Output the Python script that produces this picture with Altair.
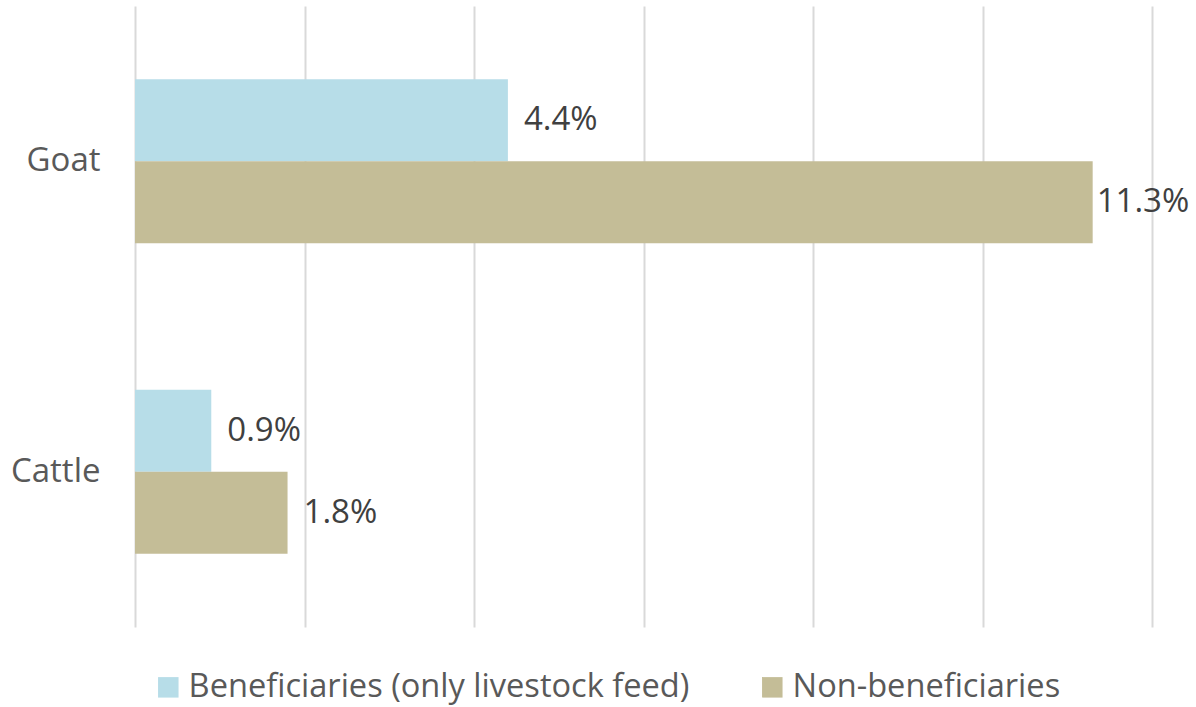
import altair as alt
import pandas as pd

categories = ["Goat", "Cattle"]
series = ["Beneficiaries (only livestock feed)", "Non-beneficiaries"]
beneficiaries = [4.4, 0.9]
non_beneficiaries = [11.3, 1.8]
colors = ["#B7DDE8", "#C4BD97"]

rows = []
for i, c in enumerate(categories):
    rows.append({"animal": c, "group": series[0], "order": 0, "value": beneficiaries[i]})
    rows.append({"animal": c, "group": series[1], "order": 1, "value": non_beneficiaries[i]})
df = pd.DataFrame(rows)
df["label"] = df["value"].map(lambda v: f"{v:.1f}%")

FONT = "Open Sans"
FS = 33

y_enc = alt.Y("animal:N", sort=categories, title=None,
              scale=alt.Scale(paddingInner=0.472, paddingOuter=0.236),
              axis=alt.Axis(domain=False, ticks=False, labelFont=FONT, labelFontSize=FS,
                            labelColor="#595959", labelPadding=35))
yoff = alt.YOffset("group:N", sort=series, scale=alt.Scale(paddingInner=0, paddingOuter=0))
x_enc = alt.X("value:Q", title=None,
              scale=alt.Scale(domain=[0, 12], nice=False),
              axis=alt.Axis(values=[0, 2, 4, 6, 8, 10, 12], labels=False, ticks=False,
                            domain=False, grid=True, gridColor="#D9D9D9", gridWidth=2))

base = alt.Chart(df)

bars = base.mark_bar(size=82).encode(
    y=y_enc, yOffset=yoff, x=x_enc,
    color=alt.Color("group:N", sort=series, title=None,
                    scale=alt.Scale(domain=series, range=colors),
                    legend=alt.Legend(orient="none", legendX=17, legendY=665, direction="horizontal",
                                      symbolType="square", symbolSize=420, symbolStrokeWidth=0,
                                      labelFont=FONT, labelFontSize=32.6, labelColor="#595959",
                                      labelOffset=4, columnPadding=66, padding=0,
                                      labelLimit=800)),
)

labels_main = base.mark_text(align="left", baseline="middle", dx=16, font=FONT,
                             fontSize=FS, color="#404040").encode(
    y=alt.Y("animal:N", sort=categories), yOffset=yoff, x="value:Q", text="label:N"
).transform_filter("datum.value < 10")

labels_edge = base.mark_text(align="left", baseline="middle", dx=4, font=FONT,
                             fontSize=FS, color="#404040").encode(
    y=alt.Y("animal:N", sort=categories), yOffset=yoff, x="value:Q", text="label:N"
).transform_filter("datum.value >= 10")

chart = alt.layer(bars, labels_main, labels_edge).properties(
    width=1017, height=621,
    autosize=alt.AutoSizeParams(type="none"),
    padding={"left": 135, "top": 6, "right": 44, "bottom": 80},
    background="white",
).configure_view(stroke=None)

chart.save("out.html", embed_options={"renderer": "svg", "actions": False})
